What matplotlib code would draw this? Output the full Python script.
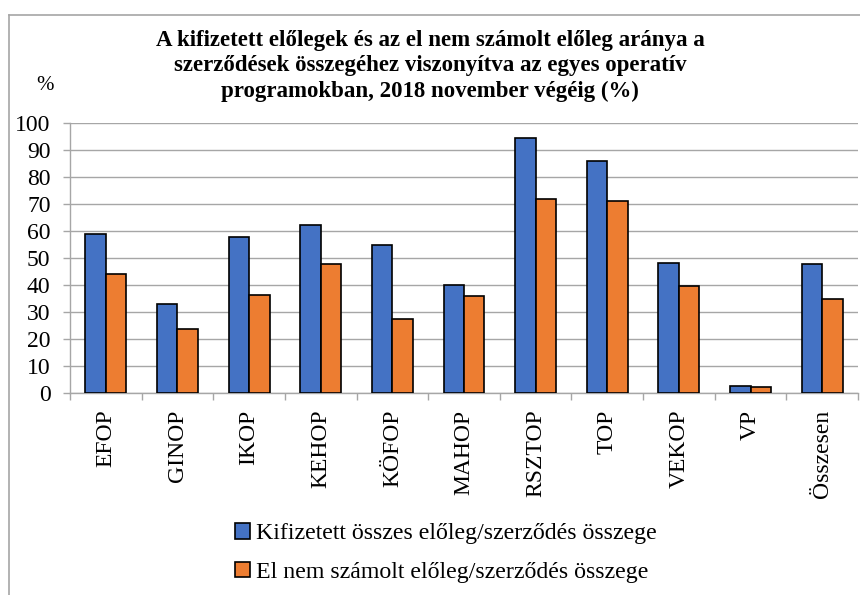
import matplotlib
matplotlib.use("Agg")
import matplotlib.pyplot as plt
import numpy as np
from matplotlib.lines import Line2D
from matplotlib.patches import Patch

categories = ["EFOP", "GINOP", "IKOP", "KEHOP", "KÖFOP", "MAHOP", "RSZTOP", "TOP", "VEKOP", "VP", "Összesen"]
kifizetett = [59.0, 32.8, 57.9, 62.1, 54.8, 39.9, 94.3, 86.0, 48.0, 2.5, 47.9]
el_nem = [44.0, 23.7, 36.3, 47.7, 27.3, 35.8, 71.9, 71.1, 39.6, 2.1, 34.9]
series_names = ["Kifizetett összes előleg/szerződés összege", "El nem számolt előleg/szerződés összege"]
title = ("A kifizetett előlegek és az el nem számolt előleg aránya a\n"
         "szerződések összegéhez viszonyítva az egyes operatív\n"
         "programokban, 2018 november végéig (%)")

plt.rcParams['font.family'] = ['Liberation Serif', 'DejaVu Serif']

W, H = 860, 595
fig = plt.figure(figsize=(8.6, 5.95), dpi=100)
ax = fig.add_axes([70 / W, 1 - 393 / H, 788 / W, 270 / H])

x = np.arange(len(categories))
bw = 0.285
blue = "#4472C4"
orange = "#ED7D31"
grid_c = "#A6A6A6"
ax.bar(x - bw / 2, kifizetett, bw, color=blue, edgecolor="black", linewidth=1.2, zorder=3)
ax.bar(x + bw / 2, el_nem, bw, color=orange, edgecolor="black", linewidth=1.2, zorder=3)

ax.set_xlim(-0.5, len(categories) - 0.5)
ax.set_ylim(0, 100)
ax.set_yticks(np.arange(0, 101, 10))
ax.yaxis.grid(True, color=grid_c, linewidth=1.0, zorder=0)
ax.tick_params(axis='y', length=5, width=1, color=grid_c, labelsize=17, pad=9)
ax.set_xticks(x)
ax.set_xticklabels(categories, rotation=90, fontsize=17)
ax.tick_params(axis='x', length=0, pad=12)
ax.set_xticks(np.arange(-0.5, len(categories), 1), minor=True)
ax.tick_params(axis='x', which='minor', length=5, color=grid_c, width=1)
for s in ["top", "right"]:
    ax.spines[s].set_visible(False)
ax.spines["left"].set_color(grid_c)
ax.spines["bottom"].set_color(grid_c)
ax.spines["left"].set_linewidth(1.0)
ax.spines["bottom"].set_linewidth(1.0)

fig.text(0.5, 1 - 66 / H, title, ha="center", va="center", fontsize=16.5,
         fontweight="bold", linespacing=1.28)
fig.text(45 / W, 1 - 86 / H, "%", ha="center", va="center", fontsize=15)

handles = [Patch(facecolor=blue, edgecolor="black", linewidth=1.2),
           Patch(facecolor=orange, edgecolor="black", linewidth=1.2)]
fig.legend(handles, series_names, loc="upper left", bbox_to_anchor=(223 / W, 1 - 511 / H),
           frameon=False, fontsize=17.2, handlelength=0.65, handleheight=0.65,
           handletextpad=0.25, labelspacing=0.72, borderpad=0)

# outer border
fig.add_artist(Line2D([9 / W, 1.0], [1 - 15 / H, 1 - 15 / H], color=grid_c, linewidth=1.2, transform=fig.transFigure))
fig.add_artist(Line2D([9 / W, 9 / W], [0, 1 - 15 / H], color=grid_c, linewidth=1.2, transform=fig.transFigure))

fig.savefig("out.png", dpi=100)
